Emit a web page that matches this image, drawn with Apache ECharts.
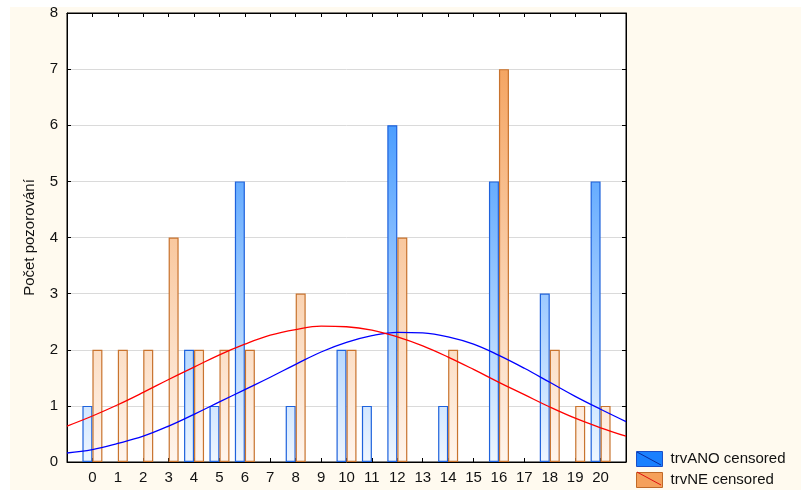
<!DOCTYPE html>
<html>
<head>
<meta charset="utf-8">
<script src="https://cdn.jsdelivr.net/npm/echarts@6/dist/echarts.min.js"></script>
<style>
html,body{margin:0;padding:0;background:#fff;}
#bg{position:absolute;left:10px;top:7px;width:791px;height:483px;background:#fffaef;}
#chart{position:absolute;left:0;top:0;width:808px;height:490px;}
</style>
</head>
<body>
<div id="bg"></div>
<div id="chart"></div>
<script>
// categories (x values)
const xValues = [0,1,2,3,4,5,6,7,8,9,10,11,12,13,14,15,16,17,18,19,20];
// bar counts
const trvANO = [1,0,0,0,2,1,5,0,1,0,2,1,6,0,1,0,5,0,3,0,5];
const trvNE  = [2,2,2,4,2,2,2,0,3,0,2,0,4,0,2,0,7,0,2,1,1];
// fitted curves (x from -1 to 21)
const curveX = [-1,0,1,2,3,4,5,6,7,8,9,10,11,12,13,14,15,16,17,18,19,20,21];
const curveANO = [0.16,0.22,0.33,0.46,0.64,0.85,1.07,1.29,1.51,1.74,1.96,2.13,2.25,2.31,2.30,2.23,2.10,1.90,1.67,1.42,1.17,0.94,0.72];
const curveNE  = [0.64,0.82,1.02,1.24,1.47,1.69,1.91,2.10,2.26,2.36,2.42,2.41,2.35,2.23,2.07,1.87,1.65,1.42,1.20,0.98,0.78,0.61,0.46];
const yTicks = [0,1,2,3,4,5,6,7,8];
const seriesNames = ['trvANO censored','trvNE censored'];

const chart = echarts.init(document.getElementById('chart'), null, {renderer:'canvas'});
const font = 'Liberation Sans, Arial, sans-serif';
const gridTop = 13, gridBottom = 462;

function pairs(vals){ return xValues.map((x,i)=>[x, vals[i]]).filter(p=>p[1]!==0); }

const blueGrad = new echarts.graphic.LinearGradient(0, gridTop, 0, gridBottom, [
  {offset:0, color:'#1580ff'}, {offset:1, color:'#eef6ff'}], true);
const orangeGrad = new echarts.graphic.LinearGradient(0, gridTop, 0, gridBottom, [
  {offset:0, color:'#f39a4f'}, {offset:1, color:'#fff5ed'}], true);

chart.setOption({
  animation:false,
  textStyle:{fontFamily:font},
  grid:{left:67, right:182, top:gridTop, bottom:490-gridBottom, show:true, backgroundColor:'#ffffff', borderColor:'#000', borderWidth:1},
  legend:{
    data:[
      {name:seriesNames[0], itemStyle:{color:'#1a80ff', borderColor:'#1a4fc8', borderWidth:1}},
      {name:seriesNames[1], itemStyle:{color:'#f5a05a', borderColor:'#c06a28', borderWidth:1}}
    ],
    orient:'vertical', left:636, top:451, padding:0, itemWidth:26, itemHeight:15, itemGap:5,
    icon:'rect', selectedMode:false,
    textStyle:{fontSize:15, color:'#111', fontFamily:font, padding:[0,0,0,3]}
  },
  graphic:[
    {type:'line', shape:{x1:637,y1:452,x2:661,y2:465}, style:{stroke:'#0a2a9a', lineWidth:1}, z:100},
    {type:'line', shape:{x1:637,y1:472,x2:661,y2:485}, style:{stroke:'#e01010', lineWidth:1}, z:100}
  ],
  xAxis:[
    {type:'value', min:-1, max:21, interval:1, position:'bottom',
     axisLine:{onZero:false, lineStyle:{color:'#000', width:1}},
     axisTick:{inside:true, length:4, lineStyle:{color:'#000'}},
     splitLine:{show:false},
     axisLabel:{fontSize:15, color:'#111', margin:8, fontFamily:font,
       formatter:v=> (xValues.indexOf(v)>=0 ? String(v) : '')}},
    {type:'value', min:-1, max:21, interval:1, position:'top',
     axisLine:{onZero:false, lineStyle:{color:'#000'}},
     axisTick:{inside:true, length:4, lineStyle:{color:'#000'}},
     splitLine:{show:false}, axisLabel:{show:false}}
  ],
  yAxis:[
    {type:'value', min:0, max:8, interval:1, position:'left',
     name:'Počet pozorování', nameLocation:'middle', nameGap:30,
     nameTextStyle:{fontSize:15, color:'#111', fontFamily:font},
     axisLine:{show:true, onZero:false, lineStyle:{color:'#000'}},
     axisTick:{show:true, inside:true, length:4, lineStyle:{color:'#000'}},
     splitLine:{show:true, lineStyle:{color:'#dadada', width:1}},
     axisLabel:{fontSize:15, color:'#111', margin:9, fontFamily:font,
       formatter:v=> (yTicks.indexOf(v)>=0 ? String(v) : '')}},
    {type:'value', min:0, max:8, interval:1, position:'right',
     axisLine:{show:true, onZero:false, lineStyle:{color:'#000'}},
     axisTick:{show:true, inside:true, length:4, lineStyle:{color:'#000'}},
     splitLine:{show:false}, axisLabel:{show:false}}
  ],
  series:[
    {name:seriesNames[0], type:'bar', xAxisIndex:0, yAxisIndex:0, barWidth:10, barGap:'0%',
     data:pairs(trvANO),
     itemStyle:{color:blueGrad, borderColor:'#1e62dc', borderWidth:1.2}, z:2},
    {name:seriesNames[1], type:'bar', xAxisIndex:0, yAxisIndex:0, barWidth:10, barGap:'0%',
     data:pairs(trvNE),
     itemStyle:{color:orangeGrad, borderColor:'#c8732e', borderWidth:1.2}, z:2},
    {name:'fitANO', type:'line', smooth:0.4, showSymbol:false, symbol:'none',
     data:curveX.map((x,i)=>[x, curveANO[i]]),
     lineStyle:{color:'#0000ff', width:1.3}, z:5},
    {name:'fitNE', type:'line', smooth:0.4, showSymbol:false, symbol:'none',
     data:curveX.map((x,i)=>[x, curveNE[i]]),
     lineStyle:{color:'#ff0000', width:1.3}, z:5}
  ]
});
</script>
</body>
</html>
